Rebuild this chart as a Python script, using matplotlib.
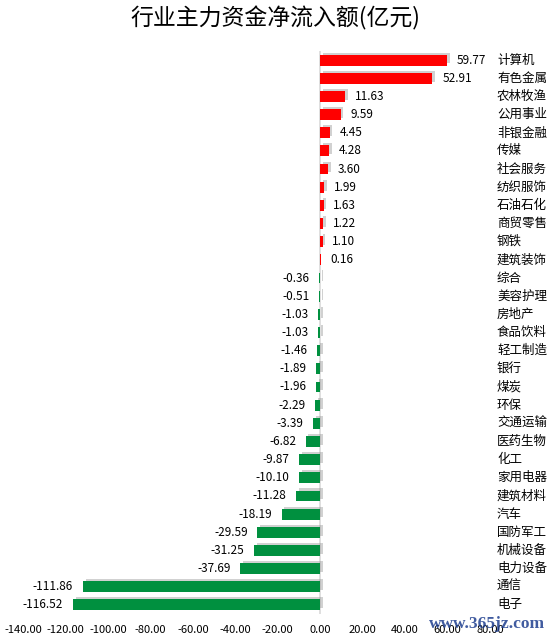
import matplotlib.pyplot as plt
import matplotlib.patheffects as pe
import matplotlib.transforms as mtransforms

plt.rcParams['font.family'] = ['Noto Sans CJK SC', 'DejaVu Sans']

# 行业名称（从上到下）
industries = ['计算机', '有色金属', '农林牧渔', '公用事业', '非银金融', '传媒', '社会服务',
              '纺织服饰', '石油石化', '商贸零售', '钢铁', '建筑装饰', '综合', '美容护理',
              '房地产', '食品饮料', '轻工制造', '银行', '煤炭', '环保', '交通运输',
              '医药生物', '化工', '家用电器', '建筑材料', '汽车', '国防军工', '机械设备',
              '电力设备', '通信', '电子']
# 主力资金净流入额（亿元）
net_inflow = [59.77, 52.91, 11.63, 9.59, 4.45, 4.28, 3.60, 1.99, 1.63, 1.22, 1.10, 0.16,
              -0.36, -0.51, -1.03, -1.03, -1.46, -1.89, -1.96, -2.29, -3.39, -6.82,
              -9.87, -10.10, -11.28, -18.19, -29.59, -31.25, -37.69, -111.86, -116.52]
x_ticks = [-140, -120, -100, -80, -60, -40, -20, 0, 20, 40, 60, 80]

fig = plt.figure(figsize=(5.51, 6.40), dpi=100)
ax = fig.add_axes([23 / 551, 1 - 614 / 640, 467 / 551, 563 / 640])

pos = list(range(len(industries)))
colors = ['#FF0000' if v >= 0 else '#00903F' for v in net_inflow]
bars = ax.barh(pos, net_inflow, height=0.6, color=colors, zorder=3)
for b in bars:
    b.set_path_effects([pe.SimplePatchShadow(offset=(2, 1.5), shadow_rgbFace='0.6', alpha=0.45),
                        pe.Normal()])

# 数值标签
for p, v in zip(pos, net_inflow):
    if v >= 0:
        ax.annotate(f'{v:.2f}', (v, p), xytext=(7, 0), textcoords='offset points',
                    ha='left', va='center', fontsize=8.5, color='black')
    else:
        ax.annotate(f'{v:.2f}', (v, p), xytext=(-7, 0), textcoords='offset points',
                    ha='right', va='center', fontsize=8.5, color='black')

# 行业标签放在右侧
trans = mtransforms.blended_transform_factory(ax.transAxes, ax.transData)
for p, name in zip(pos, industries):
    ax.text(1.015, p, name, transform=trans, ha='left', va='center', fontsize=9, color='black')

ax.axvline(0, color='#D9D9D9', lw=1.2, zorder=2)
ax.set_xlim(-140, 80)
ax.set_ylim(len(industries) - 0.5, -0.5)
ax.set_xticks(x_ticks)
ax.set_xticklabels([f'{t:.2f}' for t in x_ticks], fontsize=8)
ax.tick_params(axis='x', length=0, pad=8)
ax.set_yticks([])
for s in ax.spines.values():
    s.set_visible(False)

fig.text(0.5, 1 - 18 / 640, '行业主力资金净流入额(亿元)', ha='center', va='center', fontsize=16.5)
fig.text(0.99, 1 - 624 / 640, 'www.365jz.com', ha='right', va='center', fontsize=12.5,
         family='Liberation Serif', fontweight='bold', color='#1F3F8F', alpha=0.85)

fig.savefig('out.png', dpi=100)
